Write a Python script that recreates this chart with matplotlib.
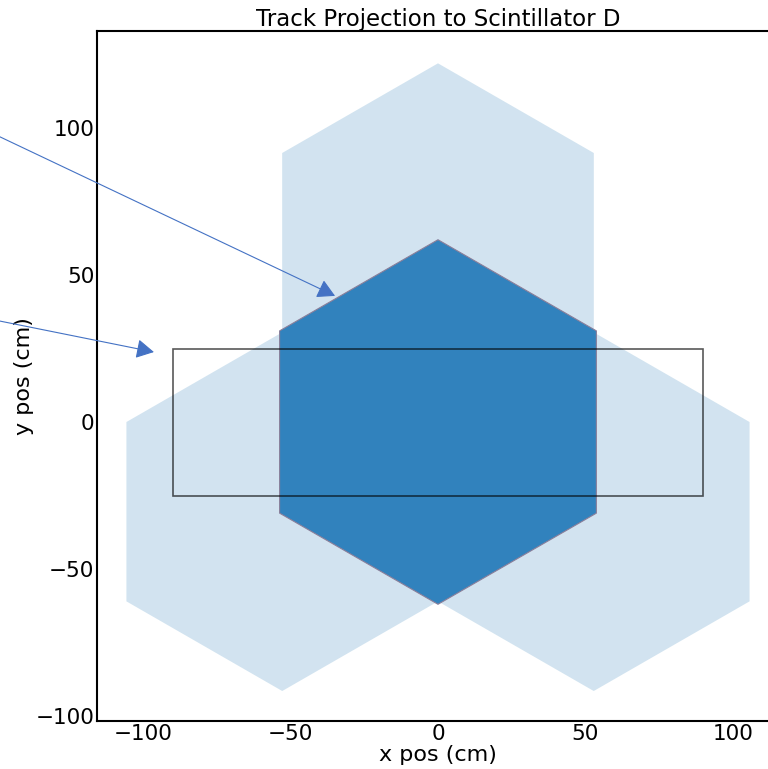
import matplotlib.pyplot as plt
import numpy as np
from matplotlib.patches import Polygon, Rectangle

# scintillator geometry (cm)
outer_R = 61.0
outer_centers = [(0.0, 61.0), (-52.8, -30.5), (52.8, -30.5)]
inner_R = 62.0
inner_center = (0.0, 0.0)

# acceptance box (cm)
box_x = [-90.0, 90.0]
box_y = [-25.0, 25.0]

# arrow tips and tails (cm)
arrow_tips = [(-34.9, 42.9), (-96.3, 23.8)]
arrow_tails = [(-175.6, 109.9), (-175.6, 39.8)]

xticks = [-100, -50, 0, 50, 100]
yticks = [-100, -50, 0, 50, 100]


def hexagon(cx, cy, R):
    ang = np.deg2rad(90 + 60 * np.arange(6))
    return np.column_stack((cx + R * np.cos(ang), cy + R * np.sin(ang)))


fig = plt.figure(figsize=(7.68, 7.69), dpi=100)
ax = fig.add_axes([0.1263, 0.0624, 0.888, 0.8973])

for c in outer_centers:
    ax.add_patch(Polygon(hexagon(c[0], c[1], outer_R), closed=True,
                         facecolor='#1f77b4', alpha=0.2, edgecolor='none'))

ax.add_patch(Polygon(hexagon(inner_center[0], inner_center[1], inner_R), closed=True,
                     facecolor='#3182bd', edgecolor='#8a7f9a', linewidth=0.8))

ax.add_patch(Rectangle((box_x[0], box_y[0]), box_x[1] - box_x[0], box_y[1] - box_y[0],
                       facecolor='none', edgecolor='black', alpha=0.65, linewidth=1.2))

for tip, tail in zip(arrow_tips, arrow_tails):
    ax.annotate('', xy=tip, xytext=tail, annotation_clip=False,
                arrowprops=dict(arrowstyle='-|>,head_length=0.4,head_width=0.22',
                                color='#4472c4', lw=0.8,
                                mutation_scale=27, shrinkA=0, shrinkB=0))

ax.set_xlim(-115.6, 115.6)
ax.set_ylim(-101.7, 133.0)
ax.set_xticks(xticks)
ax.set_yticks(yticks)
ax.tick_params(length=0, pad=2, labelsize=15.5)
for s in ax.spines.values():
    s.set_linewidth(1.5)

ax.set_title('Track Projection to Scintillator D', fontsize=16.5, pad=3)
ax.set_xlabel('x pos (cm)', fontsize=16, labelpad=1)
ax.set_ylabel('y pos (cm)', fontsize=16, labelpad=1)

fig.savefig('out.png', dpi=100)
